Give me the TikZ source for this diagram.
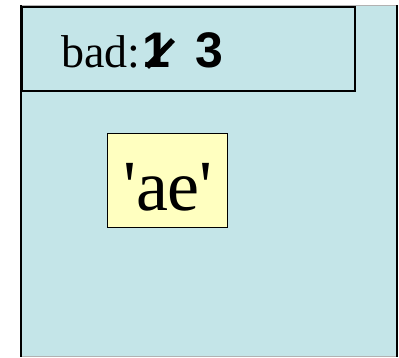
\documentclass[tikz,border=0pt]{standalone}
\usepackage{fontspec}
\setmainfont[Ligatures=NoCommon]{Liberation Serif}
\newfontfamily\boldsans{Liberation Sans}
\definecolor{framebg}{HTML}{C4E5E8}
\definecolor{objbg}{HTML}{FFFFC0}
\begin{document}
\begin{tikzpicture}[x=1pt,y=-1pt,
  serif/.style={font=\fontsize{46}{46}\selectfont, inner sep=0pt, anchor=base west},
  digit/.style={font=\fontsize{50}{50}\selectfont\boldsans\bfseries, inner sep=0pt, anchor=base west},
  box/.style={draw=black, line width=1.8pt}]
\useasboundingbox (0,0) rectangle (399,357);
% outer frame
\fill[framebg] (21,5) rectangle (397,357);
\draw[gray!60, line width=1pt] (21,5) -- (397,5);
\draw[gray!60, line width=1pt] (21,356.5) -- (397,356.5);
\draw[black, line width=2.2pt] (21,5) -- (21,357);
\draw[black, line width=2.2pt] (397,5) -- (397,357);
% inner frame
\node[box, fill=framebg, minimum width=333pt, minimum height=84pt, anchor=north west, inner sep=0pt] (hdr) at (21,6) {};
\node[serif] (bad) at (61,67) {bad:};
\node[digit] (one) at (142,67) {1};
\node[digit] (three) at (195,67) {3};
\coordinate (s1) at (147,67);
\coordinate (s2) at (173,40);
\draw[line width=5.5pt] (s1) -- (s2);
% object box
\node[box, fill=objbg, minimum width=120pt, minimum height=94pt, inner sep=0pt] (obj) at (167.5,180.5) {};
\node[font=\fontsize{72}{72}\selectfont, inner sep=0pt, anchor=base] (ae) at (168,210) {\textquotesingle ae\textquotesingle};
\end{tikzpicture}
\end{document}
